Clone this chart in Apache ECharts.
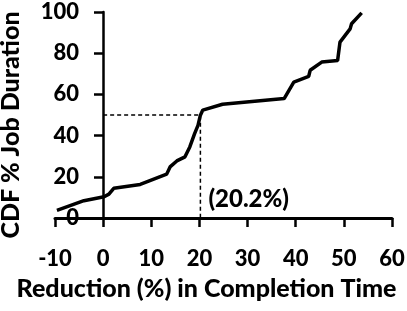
<!DOCTYPE html>
<html>
<head>
<meta charset="utf-8">
<script src="https://cdn.jsdelivr.net/npm/echarts@6/dist/echarts.min.js"></script>
<style>
  html, body { margin: 0; padding: 0; background: #fff; }
  #main { width: 407px; height: 311px; }
</style>
</head>
<body>
<div id="main"></div>
<script>
// reduction (%) in completion time vs CDF % job duration
var reduction = [-9.6, -4.0, 0.2, 1.2, 2.2, 7.7, 13.2, 13.9, 15.3, 17.0, 18.0, 19.0, 19.7, 20.2, 20.7, 24.8, 37.6, 39.6, 42.7, 43.0, 45.4, 48.7, 49.2, 51.3, 51.6, 53.7];
var cdfPct    = [3.7, 8.4, 10.3, 11.6, 14.4, 16.3, 21.3, 24.8, 27.7, 29.7, 34.5, 41.0, 45.0, 49.9, 52.4, 55.2, 58.0, 66.0, 68.8, 71.7, 75.7, 76.5, 85.4, 91.8, 94.3, 99.6];
var medianX = 20.2;
var medianY = 50;
var medianLabel = '(20.2%)';

var xTicks = { min: -10, max: 60, interval: 10 };
var yTicks = { min: 0, max: 100, interval: 20 };

var FONT = 'Lato';
var WEIGHT = 900;
var INK = '#000';

var curve = reduction.map(function (x, i) { return [x, cdfPct[i]]; });

var chart = echarts.init(document.getElementById('main'));
chart.setOption({
    animation: false,
    grid: { left: 55, right: 15, top: 12, bottom: 93, containLabel: false, outerBoundsMode: 'none' },
    xAxis: {
        type: 'value',
        position: 'bottom',
        z: 10,
        min: xTicks.min, max: xTicks.max, interval: xTicks.interval,
        name: 'Reduction (%) in Completion Time',
        nameLocation: 'middle',
        nameGap: 58,
        nameTextStyle: { fontFamily: FONT, fontWeight: WEIGHT, fontSize: 25, color: '#000', padding: [0, 34, 0, 0] },
        axisLine: { show: true, lineStyle: { color: INK, width: 3 } },
        axisTick: { show: true, inside: false, length: 9, lineStyle: { color: INK, width: 2.5 } },
        axisLabel: { margin: 30, fontFamily: FONT, fontWeight: WEIGHT, fontSize: 22, color: '#000' },
        splitLine: { show: false }
    },
    yAxis: {
        type: 'value',
        position: 'left',
        offset: -48,   // y axis sits at x = 0
        z: 10,
        min: yTicks.min, max: yTicks.max, interval: yTicks.interval,
        name: 'CDF % Job Duration',
        nameLocation: 'middle',
        nameGap: 80,
        nameTextStyle: { fontFamily: FONT, fontWeight: WEIGHT, fontSize: 25, color: '#000', padding: [0, 20, 0, 0] },
        axisLine: { show: true, onZero: false, lineStyle: { color: INK, width: 2.5 } },
        axisTick: { show: true, inside: false, length: 9, lineStyle: { color: INK, width: 2.5 } },
        axisLabel: { margin: 24, fontFamily: FONT, fontWeight: WEIGHT, fontSize: 22, color: '#000' },
        splitLine: { show: false }
    },
    series: [
        {
            type: 'line',
            data: [[0, medianY], [medianX, medianY], [medianX, 0]],
            symbol: 'none',
            lineStyle: { color: '#000', width: 1.5, type: [4, 3] },
            z: 1
        },
        {
            type: 'line',
            data: curve,
            symbol: 'none',
            lineStyle: { color: '#000', width: 3.5 },
            z: 3,
            // baseline along y = 0, in case the x axis line is hidden
            markLine: {
                silent: true,
                symbol: 'none',
                label: { show: false },
                lineStyle: { color: INK, width: 2.5, type: 'solid' },
                data: [{ yAxis: yTicks.min }]
            }
        },
        {
            type: 'scatter',
            data: [[medianX, 9]],
            symbolSize: 0,
            itemStyle: { opacity: 1 },
            label: {
                show: true, position: 'right', distance: 8,
                formatter: medianLabel, opacity: 1,
                fontFamily: FONT, fontWeight: WEIGHT, fontSize: 24, color: '#000'
            }
        }
    ]
});
</script>
</body>
</html>
